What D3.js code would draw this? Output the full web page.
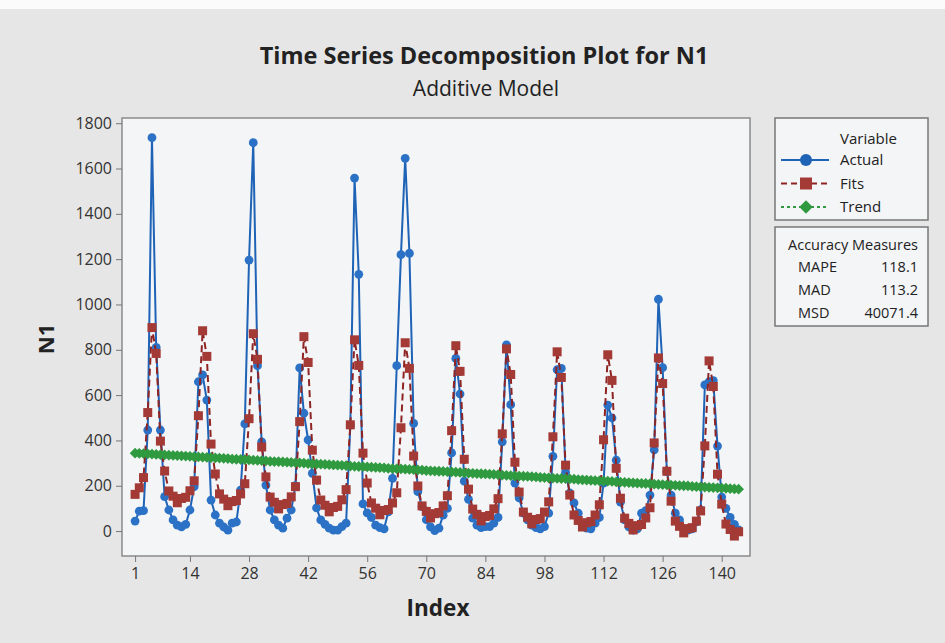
<!DOCTYPE html>
<html>
<head>
<meta charset="utf-8">
<script src="https://cdn.jsdelivr.net/npm/d3@7"></script>
<style>
  body { margin: 0; background: #fff; }
  text { font-family: "Open Sans", "Noto Sans", sans-serif; fill: #222; }
</style>
</head>
<body>
<div class="svg-target"></div>
<script>
// values (index 1..144)
const actual = [
  44, 88, 90, 446, 1736, 811, 446, 152, 93, 49, 26, 19,
  30, 93, 196, 659, 689, 578, 137, 71, 35, 18, 4, 35,
  40, 181, 473, 1196, 1714, 730, 394, 203, 93, 49, 26, 13,
  57, 93, 200, 720, 520, 402, 255, 102, 49, 30, 13, 4,
  4, 20, 35, 468, 1558, 1133, 120, 80, 60, 26, 15, 10,
  85, 233, 730, 1220, 1645, 1226, 475, 174, 108, 50, 19, 2,
  13, 70, 100, 345, 762, 605, 220, 140, 57, 26, 15, 20,
  20, 35, 60, 394, 822, 558, 212, 146, 79, 49, 26, 15,
  10, 20, 79, 330, 712, 718, 260, 168, 124, 79, 26, 13,
  10, 35, 60, 212, 556, 499, 313, 128, 49, 18, 4, 10,
  79, 90, 159, 358, 1023, 721, 262, 159, 79, 49, 10, 4,
  10, 40, 93, 645, 659, 664, 375, 150, 100, 60, 30, 5
];
const fits = [
  162, 191, 236, 523, 898, 784, 397, 265, 177, 154, 125, 144,
  149, 178, 222, 509, 884, 771, 384, 252, 164, 141, 112, 130,
  135, 164, 209, 496, 871, 758, 371, 239, 150, 127, 98, 117,
  122, 151, 196, 483, 858, 744, 357, 225, 137, 114, 85, 104,
  109, 138, 183, 469, 844, 731, 344, 212, 124, 101, 72, 91,
  95, 124, 169, 456, 831, 718, 331, 199, 111, 87, 58, 77,
  82, 111, 156, 443, 818, 705, 317, 185, 97, 74, 45, 64,
  69, 98, 143, 429, 804, 691, 304, 172, 84, 61, 32, 51,
  55, 84, 129, 416, 791, 678, 291, 159, 71, 47, 18, 37,
  42, 71, 116, 403, 778, 665, 277, 145, 57, 34, 5, 24,
  29, 58, 103, 389, 764, 651, 264, 132, 44, 21, -8, 11,
  15, 44, 89, 376, 751, 638, 251, 119, 31, 7, -22, -3
];
const trend = [
  344, 343, 342, 341, 340, 338, 337, 336, 335, 334, 333, 332,
  331, 330, 328, 327, 326, 325, 324, 323, 322, 321, 320, 318,
  317, 316, 315, 314, 313, 312, 311, 310, 308, 307, 306, 305,
  304, 303, 302, 301, 300, 298, 297, 296, 295, 294, 293, 292,
  291, 290, 289, 287, 286, 285, 284, 283, 282, 281, 280, 279,
  277, 276, 275, 274, 273, 272, 271, 270, 269, 267, 266, 265,
  264, 263, 262, 261, 260, 259, 257, 256, 255, 254, 253, 252,
  251, 250, 249, 247, 246, 245, 244, 243, 242, 241, 240, 239,
  237, 236, 235, 234, 233, 232, 231, 230, 229, 227, 226, 225,
  224, 223, 222, 221, 220, 219, 217, 216, 215, 214, 213, 212,
  211, 210, 209, 207, 206, 205, 204, 203, 202, 201, 200, 199,
  197, 196, 195, 194, 193, 192, 191, 190, 189, 187, 186, 185
];
const xTicks = [1, 14, 28, 42, 56, 70, 84, 98, 112, 126, 140];
const yTicks = [0, 200, 400, 600, 800, 1000, 1200, 1400, 1600, 1800];
const seriesNames = ['Actual', 'Fits', 'Trend'];
const accNames = ['MAPE', 'MAD', 'MSD'];
const accValues = ['118.1', '113.2', '40071.4'];

const w = 945;
const h = 643;
const plot = { left: 122, right: 750, top: 118, bottom: 556 };

const blue = '#1f63b6';
const red = '#8e2424';
const redFill = '#a33a36';
const green = '#2f9a3f';

const svg = d3.select('.svg-target')
    .append('svg')
    .attr('width', w)
    .attr('height', h);

// page background
svg.append('rect').attr('width', w).attr('height', h).attr('fill', '#e6e6e7');
svg.append('rect').attr('width', w).attr('height', 9).attr('fill', '#fbfbfb');

// plot area
svg.append('rect')
    .attr('x', plot.left).attr('y', plot.top)
    .attr('width', plot.right - plot.left).attr('height', plot.bottom - plot.top)
    .attr('fill', '#f4f5f7')
    .attr('stroke', '#8a8a8a')
    .attr('stroke-width', 1.5);

const xScale = d3.scaleLinear()
    .domain([-2.1, 146.7])
    .range([plot.left, plot.right]);

const yScale = d3.scaleLinear()
    .domain([-110, 1823])
    .range([plot.bottom, plot.top]);

const idx = actual.map((d, i) => i + 1);

// axes
const xAxis = d3.axisBottom(xScale).tickValues(xTicks).tickSize(6).tickPadding(6);
const gx = svg.append('g')
    .attr('transform', `translate(0, ${plot.bottom})`)
    .call(xAxis);
gx.select('.domain').remove();
gx.selectAll('line').attr('stroke', '#777');
gx.selectAll('text').attr('font-size', 16).style('fill', '#333');

const yAxis = d3.axisLeft(yScale).tickValues(yTicks).tickFormat(d3.format('d')).tickSize(6).tickPadding(4);
const gy = svg.append('g')
    .attr('transform', `translate(${plot.left}, 0)`)
    .call(yAxis);
gy.select('.domain').remove();
gy.selectAll('line').attr('stroke', '#777');
gy.selectAll('text').attr('font-size', 16).style('fill', '#333');

// titles
svg.append('text')
    .attr('x', 484).attr('y', 64)
    .attr('text-anchor', 'middle')
    .attr('font-size', 23.5).attr('font-weight', 'bold')
    .text('Time Series Decomposition Plot for N1');
svg.append('text')
    .attr('x', 486).attr('y', 96)
    .attr('text-anchor', 'middle')
    .attr('font-size', 21)
    .text('Additive Model');
svg.append('text')
    .attr('transform', 'translate(54, 339) rotate(-90)')
    .attr('text-anchor', 'middle')
    .attr('font-size', 22).attr('font-weight', 'bold')
    .text('N1');
svg.append('text')
    .attr('x', 438).attr('y', 616)
    .attr('text-anchor', 'middle')
    .attr('font-size', 22.5).attr('font-weight', 'bold')
    .text('Index');

const line = vals => d3.line()
    .x((d, i) => xScale(idx[i]))
    .y(d => yScale(d))(vals);

const g = svg.append('g');

// Actual
g.append('path').attr('d', line(actual))
    .attr('fill', 'none').attr('stroke', blue).attr('stroke-width', 2);
g.selectAll('.act').data(actual).enter().append('circle')
    .attr('class', 'act')
    .attr('cx', (d, i) => xScale(idx[i]))
    .attr('cy', d => yScale(d))
    .attr('r', 4.4)
    .attr('fill', '#2b72c6');

// Fits
g.append('path').attr('d', line(fits))
    .attr('fill', 'none').attr('stroke', red).attr('stroke-width', 2)
    .attr('stroke-dasharray', '7,4');
g.selectAll('.fit').data(fits).enter().append('rect')
    .attr('class', 'fit')
    .attr('x', (d, i) => xScale(idx[i]) - 4.5)
    .attr('y', d => yScale(d) - 4.5)
    .attr('width', 9).attr('height', 9)
    .attr('fill', redFill);

// Trend
g.append('path').attr('d', line(trend))
    .attr('fill', 'none').attr('stroke', green).attr('stroke-width', 2)
    .attr('stroke-dasharray', '3,3');
const diamond = d3.symbol().type(d3.symbolSquare).size(58);
g.selectAll('.trd').data(trend).enter().append('path')
    .attr('class', 'trd')
    .attr('d', diamond)
    .attr('transform', (d, i) => `translate(${xScale(idx[i])}, ${yScale(d)}) rotate(45)`)
    .attr('fill', green);

// legend
const lg = svg.append('g');
lg.append('rect')
    .attr('x', 775).attr('y', 118).attr('width', 153).attr('height', 102)
    .attr('fill', '#f4f5f7').attr('stroke', '#777').attr('stroke-width', 1.5);
lg.append('text').attr('x', 840).attr('y', 144).attr('font-size', 15).text('Variable');
const legendStyle = [
  { color: blue, dash: null },
  { color: red, dash: '6,4' },
  { color: green, dash: '3,3' }
];
seriesNames.forEach((name, i) => {
  const y = 160 + i * 23.5;
  lg.append('line')
      .attr('x1', 781).attr('x2', 829).attr('y1', y).attr('y2', y)
      .attr('stroke', legendStyle[i].color).attr('stroke-width', 2)
      .attr('stroke-dasharray', legendStyle[i].dash);
  if (i === 0) {
    lg.append('circle').attr('cx', 806).attr('cy', y).attr('r', 6).attr('fill', blue);
  } else if (i === 1) {
    lg.append('rect').attr('x', 800).attr('y', y - 6).attr('width', 12).attr('height', 12).attr('fill', redFill);
  } else {
    lg.append('path').attr('d', d3.symbol().type(d3.symbolSquare).size(90))
        .attr('transform', `translate(806, ${y}) rotate(45)`).attr('fill', green);
  }
  lg.append('text').attr('x', 840).attr('y', y + 5).attr('font-size', 15).text(name);
});

// accuracy measures
const ag = svg.append('g');
ag.append('rect')
    .attr('x', 775).attr('y', 227).attr('width', 153).attr('height', 99)
    .attr('fill', '#f4f5f7').attr('stroke', '#777').attr('stroke-width', 1.5);
ag.append('text').attr('x', 853).attr('y', 250).attr('text-anchor', 'middle')
    .attr('font-size', 14.5).text('Accuracy Measures');
accNames.forEach((name, i) => {
  const y = 272 + i * 23;
  ag.append('text').attr('x', 798).attr('y', y).attr('font-size', 14.5).text(name);
  ag.append('text').attr('x', 918).attr('y', y).attr('text-anchor', 'end')
      .attr('font-size', 14.5).text(accValues[i]);
});
</script>
</body>
</html>
